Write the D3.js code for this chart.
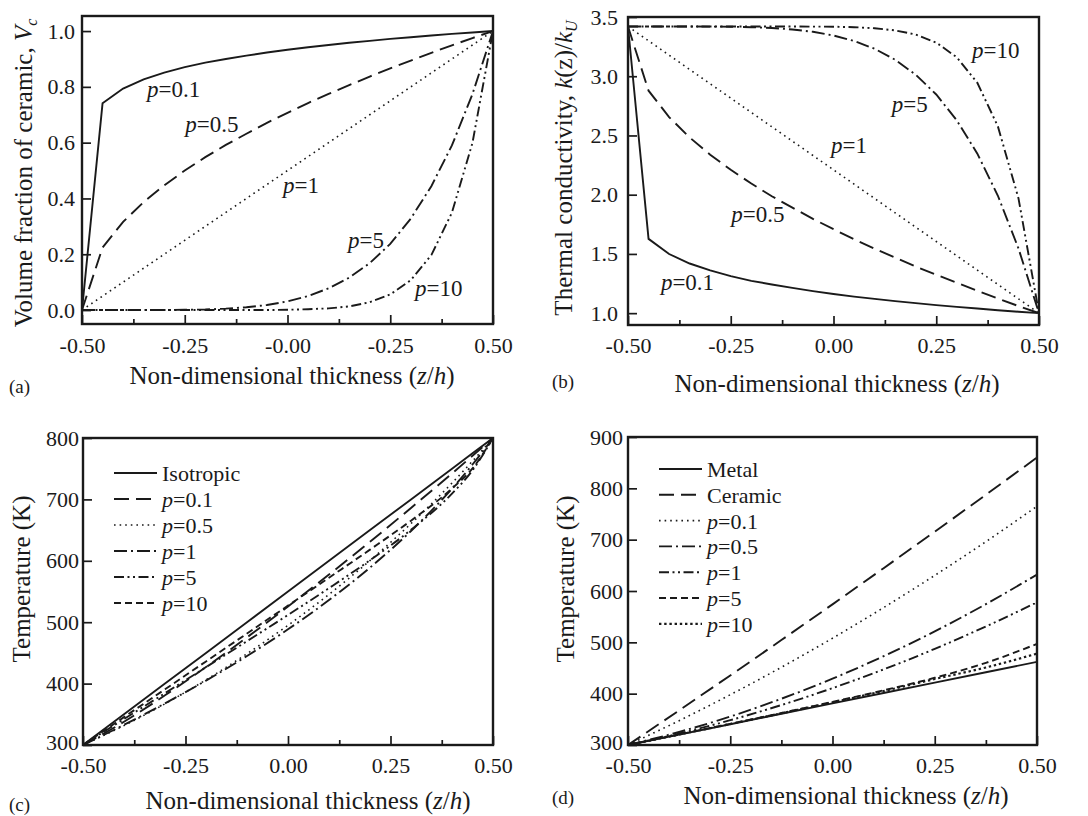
<!DOCTYPE html>
<html>
<head>
<meta charset="utf-8">
<script src="https://cdn.jsdelivr.net/npm/d3@7"></script>
<style>
body { margin: 0; background: #fff; }
svg { display: block; font-family: "Liberation Serif", "Times New Roman", serif; }
</style>
</head>
<body>
<svg id="fig" width="1088" height="816"></svg>
<script>
// ---- data ----
const zFine = [-0.50,-0.45,-0.40,-0.35,-0.30,-0.25,-0.20,-0.15,-0.10,-0.05,0.00,0.05,0.10,0.15,0.20,0.25,0.30,0.35,0.40,0.45,0.50];

// (a) volume fraction of ceramic
const vcP01 = [0,0.741,0.794,0.827,0.851,0.871,0.887,0.900,0.912,0.923,0.933,0.942,0.950,0.958,0.965,0.972,0.978,0.984,0.990,0.995,1.0];
const vcP05 = [0,0.224,0.316,0.387,0.447,0.500,0.548,0.592,0.632,0.671,0.707,0.742,0.775,0.806,0.837,0.866,0.894,0.922,0.949,0.975,1.0];
const vcP1  = [0,0.05,0.10,0.15,0.20,0.25,0.30,0.35,0.40,0.45,0.50,0.55,0.60,0.65,0.70,0.75,0.80,0.85,0.90,0.95,1.0];
const vcP5  = [0,0,0,0,0,0.001,0.002,0.005,0.010,0.018,0.031,0.050,0.078,0.116,0.168,0.237,0.328,0.444,0.590,0.774,1.0];
const vcP10 = [0,0,0,0,0,0,0,0,0,0,0.001,0.003,0.006,0.013,0.028,0.056,0.107,0.197,0.349,0.599,1.0];

// (b) thermal conductivity ratio
const kP01 = [3.42,1.627,1.499,1.419,1.361,1.312,1.273,1.242,1.213,1.186,1.162,1.140,1.121,1.102,1.085,1.068,1.053,1.039,1.024,1.012,1.0];
const kP05 = [3.42,2.878,2.655,2.483,2.338,2.210,2.094,1.987,1.891,1.796,1.709,1.624,1.544,1.469,1.394,1.324,1.257,1.189,1.123,1.060,1.0];
const kP1  = [3.42,3.299,3.178,3.057,2.936,2.815,2.694,2.573,2.452,2.331,2.210,2.089,1.968,1.847,1.726,1.605,1.484,1.363,1.242,1.121,1.0];
const kP5  = [3.42,3.42,3.42,3.42,3.419,3.418,3.414,3.407,3.395,3.375,3.344,3.298,3.232,3.139,3.013,2.846,2.627,2.346,1.991,1.547,1.0];
const kP10 = [3.42,3.42,3.42,3.42,3.42,3.42,3.42,3.42,3.42,3.419,3.418,3.414,3.405,3.387,3.352,3.284,3.160,2.944,2.576,1.971,1.0];

// (c) temperature, isotropic vs FGM
const zC = [-0.5,-0.4,-0.3,-0.2,-0.1,0,0.1,0.2,0.3,0.4,0.45,0.5];
const tIso  = [300,350,400,450,500,550,600,650,700,750,775,800];
const tcP01 = [300,337.8,380.9,427.0,475.3,525.6,577.6,631.0,686.1,742.3,771.0,800];
const tcP05 = [300,331.6,367.1,406.1,448.7,495.0,545.4,600.4,660.6,726.7,762.4,800];
const tcP1  = [300,332.8,367.8,404.9,445.0,488.4,536.1,588.9,648.6,717.6,756.8,800];
const tcP5  = [300,342.3,384.4,426.7,469.1,511.8,555.5,600.9,650.4,709.5,747.4,800];
const tcP10 = [300,345.4,390.7,436.1,481.6,527.0,572.5,618.2,665.4,717.7,750.4,800];

// (d) temperature, metal / ceramic / FGM
const zD = [-0.5,-0.375,-0.25,-0.125,0,0.125,0.25,0.375,0.5];
const tMetal   = [300,320.3,340.5,360.8,381,401.3,421.5,441.8,462];
const tCeramic = [300,367.4,435.5,504.4,574,644.4,715.5,787.4,860];
const tdP01 = [300,347.4,397.9,451.4,508,567.7,630.4,696.1,765];
const tdP05 = [300,325.4,355.4,390.1,429.3,473,521.4,574.4,632];
const tdP1  = [300,322.4,348.3,377.8,410.8,447.2,487.3,530.9,578];
const tdP5  = [300,320.5,341.2,362.3,384,406.5,431,460,497];
const tdP10 = [300,320.4,340.9,361.8,383,405,428.5,451,478];

// ticks
const xMajor = [-0.5,-0.25,0,0.25,0.5];
const xMinor = [-0.375,-0.125,0.125,0.375];
const xLabelsA = ["-0.50","-0.25","-0.00","-0.25","0.50"];
const xLabels = ["-0.50","-0.25","0.00","0.25","0.50"];
const yTicksA = [0,0.2,0.4,0.6,0.8,1.0];
const yLabelsA = ["0.0","0.2","0.4","0.6","0.8","1.0"];
const yTicksB = [1.0,1.5,2.0,2.5,3.0,3.5];
const yLabelsB = ["1.0","1.5","2.0","2.5","3.0","3.5"];
const yTicksC = [300,400,500,600,700,800];
const yTicksD = [300,400,500,600,700,800,900];

// curve labels in (a) and (b), placed in data units
const annoText = ["0.1","0.5","1","5","10"];
const annoZA = [-0.342,-0.249,-0.011,0.147,0.310];
const annoVA = [0.763,0.638,0.419,0.222,0.050];
const annoZB = [-0.420,-0.249,-0.006,0.142,0.337];
const annoVB = [1.194,1.769,2.351,2.698,3.154];

const legendC = ["Isotropic","0.1","0.5","1","5","10"];
const legendD = ["Metal","Ceramic","0.1","0.5","1","5","10"];

const ink = "#1a1a1a";

const styles = {
	solid:      {dash: null, w: 1.9},
	longDash:   {dash: "15,7", w: 1.9},
	dot:        {dash: "1.6,4", w: 1.6},
	dashDot:    {dash: "13,4,2,4", w: 1.9},
	dashDotDot: {dash: "10,3.5,2,3.5,2,3.5", w: 1.9},
	shortDash:  {dash: "7,4", w: 1.9},
	heavyDot:   {dash: "2.4,2.8", w: 2.2}
};

const svg = d3.select("#fig");

function drawPanel(p) {
	const x = d3.scaleLinear().domain([-0.5, 0.5]).range([p.left, p.right]);
	const y = d3.scaleLinear().domain(p.yDomain).range([p.bottom, p.top]);
	const g = svg.append("g");

	g.append("clipPath").attr("id", "clip-" + p.name)
		.append("rect")
		.attr("x", p.left).attr("y", p.top)
		.attr("width", p.right - p.left).attr("height", p.bottom - p.top);

	p.series.forEach(function (s) {
		const line = d3.line()
			.x(function (d) { return x(d[0]); })
			.y(function (d) { return y(d[1]); })
			.curve(s.curve || d3.curveLinear);
		g.append("path")
			.datum(d3.zip(s.z, s.v))
			.attr("clip-path", `url(#clip-${p.name})`)
			.attr("fill", "none")
			.attr("stroke", ink)
			.attr("stroke-width", styles[s.style].w)
			.attr("stroke-dasharray", styles[s.style].dash)
			.attr("d", line);
	});

	// bottom axis, minor then major (ticks point inward)
	g.append("g")
		.attr("transform", `translate(0,${p.bottom})`)
		.style("color", ink)
		.call(d3.axisBottom(x).tickValues(xMinor).tickSize(-5).tickFormat(""))
		.call(a => a.select(".domain").remove())
		.call(a => a.selectAll("line").attr("stroke-width", 1.7));
	g.append("g")
		.attr("transform", `translate(0,${p.bottom})`)
		.style("color", ink)
		.call(d3.axisBottom(x).tickValues(xMajor).tickSize(-9).tickPadding(p.xPad)
			.tickFormat(function (d, i) { return p.xLabels[i]; }))
		.call(a => a.select(".domain").remove())
		.call(a => a.selectAll("line").attr("stroke-width", 1.7))
		.call(a => a.selectAll("text").attr("font-size", 22))
		.attr("font-family", null).attr("font-size", null);

	g.append("g")
		.attr("transform", `translate(${p.left},0)`)
		.style("color", ink)
		.call(d3.axisLeft(y).tickValues(p.yTicks).tickSize(-9).tickPadding(p.yPad)
			.tickFormat(function (d, i) { return p.yLabels[i]; }))
		.call(a => a.select(".domain").remove())
		.call(a => a.selectAll("line").attr("stroke-width", 1.7))
		.call(a => a.selectAll("text").attr("font-size", 22))
		.call(a => a.selectAll(".tick").filter(d => d === p.yDomain[0])
			.select("text").attr("dy", "0.2em"))
		.attr("font-family", null).attr("font-size", null);

	// frame
	g.append("rect")
		.attr("x", p.left).attr("y", p.top)
		.attr("width", p.right - p.left).attr("height", p.bottom - p.top)
		.attr("fill", "none").attr("stroke", ink).attr("stroke-width", 2.4);

	// x title
	const xt = g.append("text")
		.attr("x", p.xTitle[0]).attr("y", p.xTitle[1])
		.attr("text-anchor", "middle").attr("font-size", 25).attr("fill", ink);
	xt.append("tspan").text("Non-dimensional thickness (");
	xt.append("tspan").attr("font-style", "italic").text("z");
	xt.append("tspan").text("/");
	xt.append("tspan").attr("font-style", "italic").text("h");
	xt.append("tspan").text(")");

	// y title
	const yt = g.append("text")
		.attr("transform", `translate(${p.yTitle[0]},${p.yTitle[1]}) rotate(-90)`)
		.attr("text-anchor", "middle").attr("font-size", 25).attr("fill", ink);
	p.yTitleParts.forEach(function (part) {
		const t = yt.append("tspan").text(part.t);
		if (part.i) t.attr("font-style", "italic");
		if (part.sub) t.attr("font-size", 16).attr("dy", "0.3em");
	});

	// panel letter
	g.append("text")
		.attr("x", p.letter[0]).attr("y", p.letter[1])
		.attr("font-size", 19).attr("fill", ink)
		.text(p.letter[2]);

	// curve annotations
	if (p.anno) {
		p.anno.z.forEach(function (z, i) {
			const t = g.append("text")
				.attr("x", x(z)).attr("y", y(p.anno.v[i]))
				.attr("font-size", 23).attr("fill", ink);
			t.append("tspan").attr("font-style", "italic").text("p");
			t.append("tspan").text("=" + annoText[i]);
		});
	}

	// legend
	if (p.legend) {
		p.legend.labels.forEach(function (lab, i) {
			const ly = p.legend.y + i * p.legend.step;
			g.append("line")
				.attr("x1", p.legend.x).attr("x2", p.legend.x + 43)
				.attr("y1", ly).attr("y2", ly)
				.attr("stroke", ink)
				.attr("stroke-width", styles[p.series[i].style].w)
				.attr("stroke-dasharray", styles[p.series[i].style].dash);
			const t = g.append("text")
				.attr("x", p.legend.x + 48).attr("y", ly + 8)
				.attr("font-size", 22).attr("fill", ink);
			if (/^[0-9]/.test(lab)) {
				t.append("tspan").attr("font-style", "italic").text("p");
				t.append("tspan").text("=" + lab);
			} else {
				t.text(lab);
			}
		});
	}
}

drawPanel({
	name: "a", left: 82, right: 493, top: 16, bottom: 324,
	yDomain: [-0.05, 1.054], yTicks: yTicksA, yLabels: yLabelsA, xLabels: xLabelsA,
	xPad: 13, yPad: 7,
	xTitle: [292, 384], yTitle: [32, 173],
	yTitleParts: [{t: "Volume fraction of ceramic, "}, {t: "V", i: true}, {t: "c", i: true, sub: true}],
	letter: [9, 393, "(a)"],
	anno: {z: annoZA, v: annoVA},
	series: [
		{z: zFine, v: vcP01, style: "solid"},
		{z: zFine, v: vcP05, style: "longDash"},
		{z: zFine, v: vcP1, style: "dot"},
		{z: zFine, v: vcP5, style: "dashDot"},
		{z: zFine, v: vcP10, style: "dashDotDot"}
	]
});

drawPanel({
	name: "b", left: 628, right: 1039, top: 17, bottom: 325,
	yDomain: [0.9, 3.5], yTicks: yTicksB, yLabels: yLabelsB, xLabels: xLabels,
	xPad: 12, yPad: 10,
	xTitle: [837, 392], yTitle: [572, 168],
	yTitleParts: [{t: "Thermal conductivity, "}, {t: "k", i: true}, {t: "(z)/"}, {t: "k", i: true}, {t: "U", i: true, sub: true}],
	letter: [552, 388, "(b)"],
	anno: {z: annoZB, v: annoVB},
	series: [
		{z: zFine, v: kP01, style: "solid"},
		{z: zFine, v: kP05, style: "longDash"},
		{z: zFine, v: kP1, style: "dot"},
		{z: zFine, v: kP5, style: "dashDot"},
		{z: zFine, v: kP10, style: "dashDotDot"}
	]
});

drawPanel({
	name: "c", left: 83, right: 493, top: 438, bottom: 745,
	yDomain: [300, 800], yTicks: yTicksC, yLabels: yTicksC.map(String), xLabels: xLabels,
	xPad: 12, yPad: 4,
	xTitle: [308, 809], yTitle: [30, 579],
	yTitleParts: [{t: "Temperature (K)"}],
	letter: [9, 811, "(c)"],
	legend: {labels: legendC, x: 114, y: 473, step: 26},
	series: [
		{z: zC, v: tIso, style: "solid"},
		{z: zC, v: tcP01, style: "longDash", curve: d3.curveMonotoneX},
		{z: zC, v: tcP05, style: "dot", curve: d3.curveMonotoneX},
		{z: zC, v: tcP1, style: "dashDot", curve: d3.curveMonotoneX},
		{z: zC, v: tcP5, style: "dashDotDot", curve: d3.curveMonotoneX},
		{z: zC, v: tcP10, style: "shortDash", curve: d3.curveMonotoneX}
	]
});

drawPanel({
	name: "d", left: 628, right: 1037, top: 437, bottom: 745,
	yDomain: [300, 900], yTicks: yTicksD, yLabels: yTicksD.map(String), xLabels: xLabels,
	xPad: 12, yPad: 5,
	xTitle: [846, 804], yTitle: [574, 579],
	yTitleParts: [{t: "Temperature (K)"}],
	letter: [552, 804, "(d)"],
	legend: {labels: legendD, x: 659, y: 469, step: 25.8},
	series: [
		{z: zD, v: tMetal, style: "solid"},
		{z: zD, v: tCeramic, style: "longDash"},
		{z: zD, v: tdP01, style: "dot", curve: d3.curveMonotoneX},
		{z: zD, v: tdP05, style: "dashDot", curve: d3.curveMonotoneX},
		{z: zD, v: tdP1, style: "dashDotDot", curve: d3.curveMonotoneX},
		{z: zD, v: tdP5, style: "shortDash", curve: d3.curveMonotoneX},
		{z: zD, v: tdP10, style: "heavyDot", curve: d3.curveMonotoneX}
	]
});
</script>
</body>
</html>
